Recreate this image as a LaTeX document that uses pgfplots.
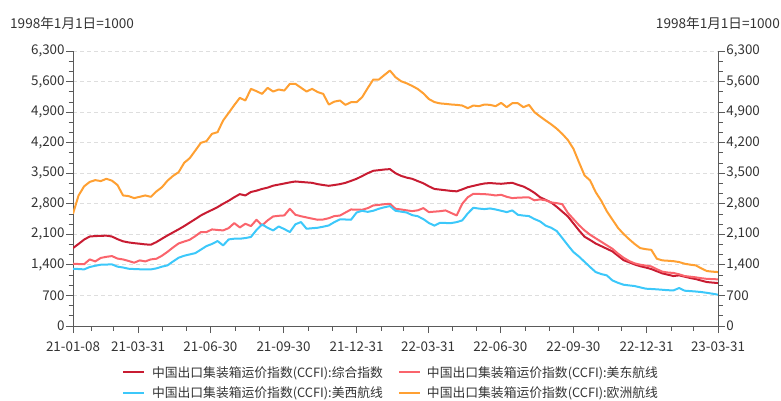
\documentclass[border=0pt]{standalone}
\usepackage{pgfplots}
\pgfplotsset{compat=1.18}
\usepackage{pgfplotstable}
\usepackage{fontspec}
\setmainfont{Noto Sans CJK SC}
\definecolor{cC}{RGB}{200,28,50}
\definecolor{cE}{RGB}{250,100,108}
\definecolor{cW}{RGB}{60,200,250}
\definecolor{cU}{RGB}{255,160,50}
\definecolor{axc}{RGB}{90,90,90}
\definecolor{txc}{RGB}{51,51,51}
\pgfplotstableread{
w C E W U
0 1785 1427 1312 2571
1 1880 1420 1305 2990
2 1980 1415 1297 3200
3 2050 1526 1351 3300
4 2060 1480 1380 3342
5 2065 1560 1404 3320
6 2070 1585 1408 3372
7 2050 1602 1412 3330
8 1990 1545 1360 3230
9 1940 1525 1340 2991
10 1915 1490 1312 2976
11 1898 1450 1305 2930
12 1885 1503 1300 2960
13 1870 1480 1298 2991
14 1862 1526 1297 2960
15 1923 1541 1320 3083
16 2000 1610 1360 3180
17 2075 1700 1389 3330
18 2145 1800 1480 3440
19 2215 1892 1564 3525
20 2289 1935 1610 3739
21 2370 1976 1640 3846
22 2450 2060 1670 4020
23 2533 2152 1750 4197
24 2600 2152 1831 4235
25 2660 2213 1880 4403
26 2724 2200 1946 4441
27 2800 2190 1846 4708
28 2870 2243 1984 4883
29 2950 2358 2000 5060
30 3021 2258 1999 5227
31 2991 2342 2015 5166
32 3070 2289 2040 5433
33 3100 2434 2200 5380
34 3140 2304 2327 5318
35 3170 2420 2250 5456
36 3215 2510 2190 5372
37 3240 2525 2281 5418
38 3265 2533 2220 5394
39 3290 2686 2152 5547
40 3311 2548 2330 5547
41 3300 2515 2381 5460
42 3290 2487 2228 5372
43 3280 2460 2240 5433
44 3250 2434 2251 5360
45 3230 2440 2275 5318
46 3212 2470 2304 5074
47 3230 2518 2380 5140
48 3250 2530 2442 5166
49 3280 2600 2440 5066
50 3325 2670 2434 5127
51 3372 2665 2600 5127
52 3435 2663 2640 5242
53 3500 2700 2615 5450
54 3556 2762 2640 5646
55 3570 2775 2686 5646
56 3585 2790 2720 5750
57 3594 2800 2747 5852
58 3500 2686 2640 5700
59 3440 2670 2620 5608
60 3400 2650 2600 5560
61 3372 2632 2540 5500
62 3320 2650 2515 5430
63 3270 2701 2450 5330
64 3200 2609 2360 5200
65 3140 2620 2300 5130
66 3125 2630 2365 5100
67 3110 2648 2360 5089
68 3095 2590 2358 5075
69 3085 2533 2380 5066
70 3130 2800 2419 5051
71 3180 2950 2580 4990
72 3210 3029 2709 5051
73 3240 3025 2690 5036
74 3265 3021 2678 5074
75 3275 3010 2693 5066
76 3265 2991 2670 5036
77 3258 3006 2640 5112
78 3270 2960 2609 5013
79 3281 2930 2648 5104
80 3235 2940 2548 5104
81 3195 2945 2530 5013
82 3130 2945 2518 5066
83 3050 2880 2450 4898
84 2950 2900 2396 4800
85 2890 2880 2300 4708
86 2830 2830 2250 4620
87 2730 2815 2175 4520
88 2620 2790 2014 4400
89 2510 2590 1850 4260
90 2350 2450 1694 4060
91 2190 2310 1590 3750
92 2045 2190 1470 3449
93 1970 2090 1350 3334
94 1890 2010 1236 3067
95 1830 1930 1190 2870
96 1770 1850 1160 2630
97 1710 1770 1045 2440
98 1610 1660 990 2250
99 1510 1565 946 2110
100 1460 1490 930 1990
101 1410 1435 916 1880
102 1370 1405 885 1785
103 1340 1385 855 1760
104 1305 1365 848 1745
105 1255 1300 840 1541
106 1205 1245 830 1503
107 1175 1225 820 1495
108 1145 1215 816 1485
109 1160 1185 870 1465
110 1130 1145 809 1427
111 1100 1130 800 1405
112 1075 1115 790 1389
113 1040 1095 778 1320
114 1007 1080 760 1259
115 995 1075 740 1245
116 984 1068 717 1236
}\ccfi
\pgfplotsset{
  common/.style={
    at={(73pt,74pt)}, anchor=south west,
    width=645pt, height=275pt, scale only axis,
    xmin=0, xmax=812, ymin=0, ymax=6300,
    ytick={0,700,1400,2100,2800,3500,4200,4900,5600,6300},
    minor y tick num=2,
    tick align=outside,
    major tick length=7pt, minor tick length=4.5pt,
    every tick/.style={axc, line width=0.8pt},
    every minor tick/.style={axc, line width=0.8pt},
    axis line style={axc, line width=0.8pt},
    tick label style={font=\fontsize{13.4}{15}\selectfont, text=txc},
    yticklabel style={inner sep=1.2pt},
    xticklabel style={yshift=-5pt},
    /pgf/number format/assume math mode=true,
    /pgf/number format/1000 sep={,},
    scaled y ticks=false,
  }
}
\begin{document}
\begin{tikzpicture}[x=1pt,y=1pt]
\useasboundingbox (0,0) rectangle (781,400);
\begin{axis}[common,
  axis x line*=bottom, axis y line*=left,
  xtick={0,82,173,265,357,447,538,630,722,812},
  xticklabels={21-01-08,21-03-31,21-06-30,21-09-30,21-12-31,22-03-31,22-06-30,22-09-30,22-12-31,23-03-31},
  minor xtick={23,51,112,143,204,235,296,326,388,416,477,508,569,600,661,691,753,781},
  ymajorgrids,
  major grid style={color=black!13, dash pattern=on 4pt off 3pt, line width=0.8pt},
  legend columns=2,
  legend cell align=left,
  legend style={at={(0.076,-0.146)}, anchor=north west, draw=none, fill=none,
    inner sep=0pt, outer sep=0pt,
    nodes={inner sep=0pt},
    font=\fontsize{12.8}{14}\selectfont, text=txc, row sep=8pt, column sep=0pt,
    /tikz/column 1/.style={column sep=7pt},
    /tikz/column 2/.style={column sep=15pt},
    /tikz/column 3/.style={column sep=6pt}},
  legend image code/.code={\draw[#1] (0pt,0pt) -- (21pt,0pt);},
  every axis plot/.append style={line width=2pt, line join=round},
]
\addplot[cC] table[x expr=\thisrow{w}*7, y=C] {\ccfi};
\addlegendentry{中国出口集装箱运价指数(CCFI):综合指数}
\addplot[cE] table[x expr=\thisrow{w}*7, y=E] {\ccfi};
\addlegendentry{中国出口集装箱运价指数(CCFI):美东航线}
\addplot[cW] table[x expr=\thisrow{w}*7, y=W] {\ccfi};
\addlegendentry{中国出口集装箱运价指数(CCFI):美西航线}
\addplot[cU] table[x expr=\thisrow{w}*7, y=U] {\ccfi};
\addlegendentry{中国出口集装箱运价指数(CCFI):欧洲航线}
\end{axis}
\begin{axis}[common,
  axis x line=none, axis y line*=right,
]
\end{axis}
\node[anchor=west, font=\fontsize{13.6}{16}\selectfont, text=txc, inner sep=0pt] at (10,377) {1998年1月1日=1000};
\node[anchor=east, font=\fontsize{13.6}{16}\selectfont, text=txc, inner sep=0pt] at (780,377) {1998年1月1日=1000};
\end{tikzpicture}
\end{document}
